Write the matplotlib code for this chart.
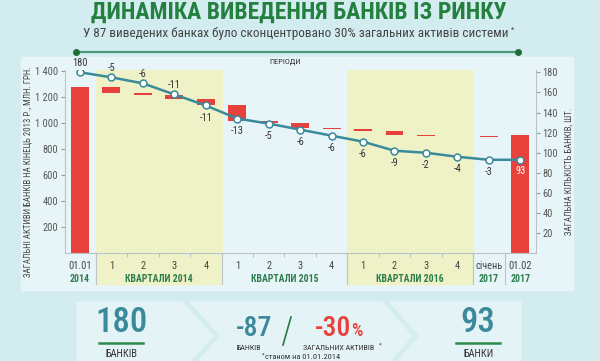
import numpy as np
import matplotlib
matplotlib.use("Agg")
import matplotlib.pyplot as plt
from matplotlib.patches import Rectangle, Polygon

plt.rcParams['font.family'] = ['Roboto Condensed', 'Roboto', 'DejaVu Sans']

# data
periods = ['01.01', '1', '2', '3', '4', '1', '2', '3', '4', '1', '2', '3', '4', 'січень', '01.02']
group_names = ['2014', 'КВАРТАЛИ 2014', 'КВАРТАЛИ 2015', 'КВАРТАЛИ 2016', '2017', '2017']
group_first = [0, 1, 5, 9, 13, 14]
group_last = [0, 4, 8, 12, 13, 14]
yellow_groups = [1, 3]
banks = [180, 175, 169, 158, 147, 134, 129, 123, 117, 111, 102, 100, 96, 93, 93]
bank_labels = ['180', '-5', '-6', '-11', '-11', '-13', '-5', '-6', '-6', '-6', '-9', '-2', '-4', '-3', '93']
assets_start = 1277
assets_withdrawn = [46, 13, 33, 45, 122, 18, 36, 8, 20, 26, 7, 6, 7]
assets_end = 905
left_ticks = [200, 400, 600, 800, 1000, 1200, 1400]
right_ticks = [20, 40, 60, 80, 100, 120, 140, 160, 180]

red = '#e8403a'
teal = '#3b8a9c'
green = '#23803f'
yellow = '#eff2c6'
panel = '#e8f5f8'
bgcol = '#d2ecf0'
grey = '#b8c4c8'

fig = plt.figure(figsize=(6, 3.61), dpi=100)
fig.patch.set_facecolor(bgcol)

# background layer in pixel coordinates
bg = fig.add_axes([0, 0, 1, 1])
bg.set_xlim(0, 600)
bg.set_ylim(361, 0)
bg.axis('off')
bg.add_patch(Rectangle((20.5, 57), 552.5, 233, color=panel, zorder=0))

bg.text(299, 12, 'ДИНАМІКА ВИВЕДЕННЯ БАНКІВ ІЗ РИНКУ', color=green, fontsize=17,
        fontweight='bold', ha='center', va='center')
bg.text(296, 34, 'У 87 виведених банках було сконцентровано 30% загальних активів системи',
        color='#444444', fontsize=9.5, ha='center', va='center')
bg.text(511, 30, '*', color='#444444', fontsize=5.5, ha='left', va='center')
bg.plot([76, 518], [52, 52], color='#4a9a78', lw=1.6)
bg.plot([76, 518], [52, 52], 'o', color='#1f6e3a', ms=4)

bg.text(285, 62, 'ПЕРІОДИ', color='#333333', fontsize=6, ha='center', va='center')
bg.text(28, 172, 'ЗАГАЛЬНІ АКТИВИ БАНКІВ НА КІНЕЦЬ 2013 Р., МЛН. ГРН.', rotation=90,
        color='#444444', fontsize=6.3, ha='center', va='center')
bg.text(569, 171, 'ЗАГАЛЬНА КІЛЬКІСТЬ БАНКІВ, ШТ.', rotation=90,
        color='#444444', fontsize=6.3, ha='center', va='center')

# bottom chevrons
light = '#e4f3f6'
bg.add_patch(Polygon([(77, 302), (182, 302), (213, 336), (182, 370), (77, 370)], color=light, zorder=0))
bg.add_patch(Polygon([(190, 302), (382, 302), (412, 336), (382, 370), (190, 370), (221, 336)], color=light, zorder=0))
bg.add_patch(Polygon([(390, 302), (521, 302), (521, 370), (390, 370), (420, 336)], color=light, zorder=0))

bg.text(121, 323, '180', color=teal, fontsize=25, fontweight='medium', ha='center', va='center')
bg.plot([99, 143], [343, 343], color='#2e8a4a', lw=1.8)
bg.text(121, 354, 'БАНКІВ', color='#333333', fontsize=7.5, ha='center', va='center')

bg.text(478, 323, '93', color=teal, fontsize=25, fontweight='medium', ha='center', va='center')
bg.plot([456, 500], [343, 343], color='#2e8a4a', lw=1.8)
bg.text(478, 354, 'БАНКИ', color='#333333', fontsize=7.5, ha='center', va='center')

bg.text(254, 328, '-87', color=teal, fontsize=20, fontweight='medium', ha='center', va='center')
bg.plot([283, 291], [345, 317], color='#2a7a45', lw=1.2)
bg.text(333, 328, '-30', color=red, fontsize=20, fontweight='medium', ha='center', va='center')
bg.text(351, 331, '%', color=red, fontsize=13, fontweight='medium', ha='left', va='center')
bg.text(249, 348.5, 'БАНКІВ', color='#333333', fontsize=5.8, ha='center', va='center')
bg.text(339, 348.5, 'ЗАГАЛЬНИХ АКТИВІВ', color='#333333', fontsize=5.8, ha='center', va='center')
bg.text(379, 345.5, '*', color='#333333', fontsize=4.5, ha='left', va='center')
bg.text(303, 357, 'станом на 01.01.2014', color='#333333', fontsize=6, ha='center', va='center')
bg.text(265, 355, '*', color='#333333', fontsize=4.5, ha='right', va='center')

# main chart
ax = fig.add_axes([65 / 600, 1 - 253.3 / 361, 470.7 / 600, 183.6 / 361])
ax.patch.set_alpha(0)
x = np.arange(len(periods))
ax.set_xlim(-0.477, 14.49)
ax.set_ylim(0, 1410)

trans = ax.get_xaxis_transform()
for g in yellow_groups:
    ax.add_patch(Rectangle((group_first[g] - 0.5, -0.167), group_last[g] - group_first[g] + 1, 1.167,
                           transform=trans, color=yellow, clip_on=False, zorder=0))

withdrawn = np.array(assets_withdrawn)
tops = assets_start - np.concatenate([[0], np.cumsum(withdrawn)[:-1]])
ax.bar(x[0], assets_start, width=0.57, color=red, zorder=2)
ax.bar(x[1:14], withdrawn, bottom=tops - withdrawn, width=0.57, color=red, zorder=2)
ax.bar(x[14], assets_end, width=0.57, color=red, zorder=2)

for s in ['top', 'right']:
    ax.spines[s].set_visible(False)
ax.spines['left'].set_color(grey)
ax.spines['bottom'].set_color(grey)
ax.set_yticks(left_ticks)
ax.set_yticklabels(['{:,}'.format(v).replace(',', ' ') for v in left_ticks])
ax.tick_params(axis='y', colors='#999999', labelcolor='#555555', labelsize=7.5, length=3, width=0.8, pad=2)
ax.set_xticks([])
ax.set_xticks([1.5, 2.5, 3.5, 5.5, 6.5, 7.5, 9.5, 10.5, 11.5], minor=True)
ax.tick_params(axis='x', which='minor', colors=grey, length=3, width=0.8, labelbottom=False)

for i, p in enumerate(periods):
    ax.text(x[i], -0.069, p, transform=trans, color='#444444', fontsize=7.5, ha='center', va='center')
for g, name in enumerate(group_names):
    ax.text((group_first[g] + group_last[g]) / 2, -0.14, name, transform=trans, color='#2e7d4f',
            fontsize=7, fontweight='bold', ha='center', va='center')
for b in [0.5, 4.5, 8.5, 12.5, 13.5]:
    ax.plot([b, b], [0, -0.167], transform=trans, color=grey, lw=0.8, clip_on=False)

ax2 = ax.twinx()
ax2.set_ylim(0, 182.6)
ax2.plot(x, banks, color=teal, lw=1.8, marker='o', ms=5, mfc='white', mec=teal, mew=1.1, zorder=3)
for s in ['top', 'left', 'bottom']:
    ax2.spines[s].set_visible(False)
ax2.spines['right'].set_color(grey)
ax2.set_yticks(right_ticks)
ax2.tick_params(axis='y', colors='#999999', labelcolor='#555555', labelsize=7.5, length=3, width=0.8, pad=2)

for i, lab in enumerate(bank_labels):
    if i <= 3:
        off, col = 7, '#333333'
    elif i == len(bank_labels) - 1:
        off, col = -8, 'white'
    else:
        off, col = -9, '#333333'
    ax2.annotate(lab, (x[i], banks[i]), xytext=(0, off), textcoords='offset points',
                 ha='center', va='center', fontsize=7.5, color=col)

fig.savefig('out.png', dpi=100, facecolor=fig.get_facecolor())
